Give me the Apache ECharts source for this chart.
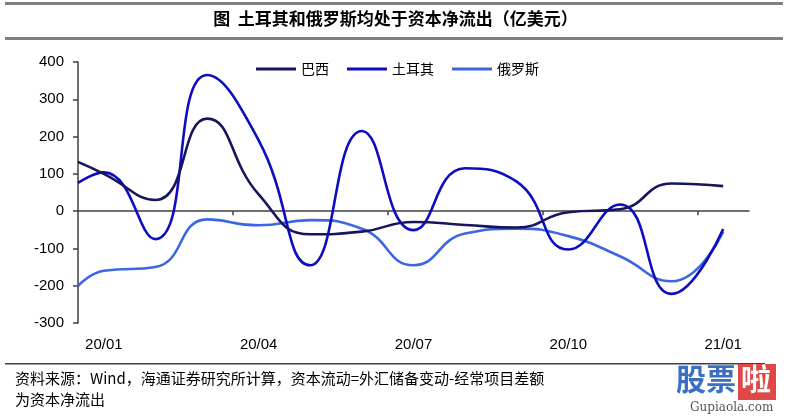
<!DOCTYPE html>
<html><head><meta charset="utf-8">
<script src="https://cdn.jsdelivr.net/npm/echarts@6/dist/echarts.min.js"></script>
<style>html,body{margin:0;padding:0;background:#fff}#c{width:791px;height:420px}</style>
</head><body><div id="c"></div>
<script>
// month index relative to 20/01 (first point is the half-month start of the plotted window)
var monthIdx = [-0.5, 0, 1, 2, 3, 4, 5, 6, 7, 8, 9, 10, 11, 12];
var tickLabels = ['20/01', '20/04', '20/07', '20/10', '21/01'];
var labelMonths = [0, 3, 6, 9, 12];
var brazil = [132, 100, 30, 248, 45, -62, -55, -29, -37, -44, -3, 5, 74, 67];
var turkey = [76, 104, -75, 365, 190, -145, 215, -51, 115, 79, -103, 18, -222, -48];
var russia = [-201, -160, -150, -22, -38, -24, -47, -145, -60, -47, -67, -121, -188, -55];
var seriesNames = ['巴西', '土耳其', '俄罗斯'];

function pts(vals) { return vals.map(function (v, i) { return [monthIdx[i], v]; }); }
var colors = ['#16155e', '#0c0cc0', '#3d66e2'];
var font = 'Liberation Sans, Arial, sans-serif';
var cjk = '"Noto Sans CJK SC", sans-serif';

var chart = echarts.init(document.getElementById('c'), null, {renderer: 'canvas'});
chart.setOption({
  animation: false,
  color: colors,
  grid: {left: 78, right: 42, top: 62, bottom: 97},
  legend: {
    top: 57, left: 251, itemWidth: 40, itemHeight: 3, itemGap: 18, icon: 'rect',
    textStyle: {fontFamily: cjk, fontSize: 14, color: '#000'},
    data: seriesNames
  },
  xAxis: [{
    type: 'value', min: -0.5, max: 12.5, interval: 3,
    axisLine: {onZero: true, lineStyle: {color: '#404040', width: 1.5}},
    axisTick: {show: true, inside: false, length: 4, lineStyle: {color: '#404040', width: 1.5},
      customValues: [2.5, 5.5, 8.5, 11.5]},
    axisLabel: {show: false}, splitLine: {show: false}
  }, {
    type: 'value', min: -0.5, max: 12.5, position: 'bottom',
    axisLine: {show: false, onZero: false}, axisTick: {show: false}, splitLine: {show: false},
    axisLabel: {
      customValues: labelMonths, margin: 14,
      fontFamily: font, fontSize: 15, color: '#000',
      formatter: function (v) { var i = labelMonths.indexOf(Math.round(v)); return i >= 0 ? tickLabels[i] : ''; }
    }
  }],
  yAxis: {
    type: 'value', min: -300, max: 400, interval: 100,
    axisLine: {show: true, onZero: false, lineStyle: {color: '#404040', width: 1.5}},
    axisTick: {show: true, length: 5, lineStyle: {color: '#404040', width: 1.5}},
    axisLabel: {fontFamily: font, fontSize: 15, color: '#000', margin: 14},
    splitLine: {show: false}
  },
  series: [
    {name: seriesNames[0], type: 'line', smooth: 0.5, showSymbol: false, data: pts(brazil), lineStyle: {width: 2.6}, z: 3},
    {name: seriesNames[1], type: 'line', smooth: 0.5, showSymbol: false, data: pts(turkey), lineStyle: {width: 2.6}, z: 2},
    {name: seriesNames[2], type: 'line', smooth: 0.5, showSymbol: false, data: pts(russia), lineStyle: {width: 2.6}, z: 1}
  ],
  graphic: [
    {type: 'rect', shape: {x: 5, y: 2, width: 778, height: 3}, style: {fill: '#808080'}},
    {type: 'rect', shape: {x: 5, y: 37, width: 778, height: 3}, style: {fill: '#808080'}},
    {type: 'text', left: 'center', top: 10, style: {text: '图  土耳其和俄罗斯均处于资本净流出（亿美元）', fontFamily: cjk, fontWeight: 'bold', fontSize: 17, fill: '#000'}},
    {type: 'rect', shape: {x: 5, y: 363, width: 760, height: 1.5}, style: {fill: '#404040'}},
    {type: 'text', left: 15, top: 371, style: {text: '资料来源：Wind，海通证券研究所计算，资本流动=外汇储备变动-经常项目差额', fontFamily: cjk, fontSize: 15, fill: '#000'}},
    {type: 'text', left: 15, top: 392, style: {text: '为资本净流出', fontFamily: cjk, fontSize: 15, fill: '#000'}},
    {type: 'text', left: 676, top: 364, style: {text: '股票', fontFamily: cjk, fontWeight: 'bold', fontSize: 30, fill: '#3b6fc4'}},
    {type: 'rect', shape: {x: 738, y: 364, width: 38, height: 36}, style: {fill: '#e04848'}},
    {type: 'text', left: 741, top: 364, style: {text: '啦', fontFamily: cjk, fontWeight: 'bold', fontSize: 30, fill: '#fff'}},
    {type: 'text', left: 690, top: 402, style: {text: 'Gupiaola.com', fontFamily: 'DejaVu Serif, serif', fontSize: 12, fill: '#555'}}
  ]
});
</script></body></html>
